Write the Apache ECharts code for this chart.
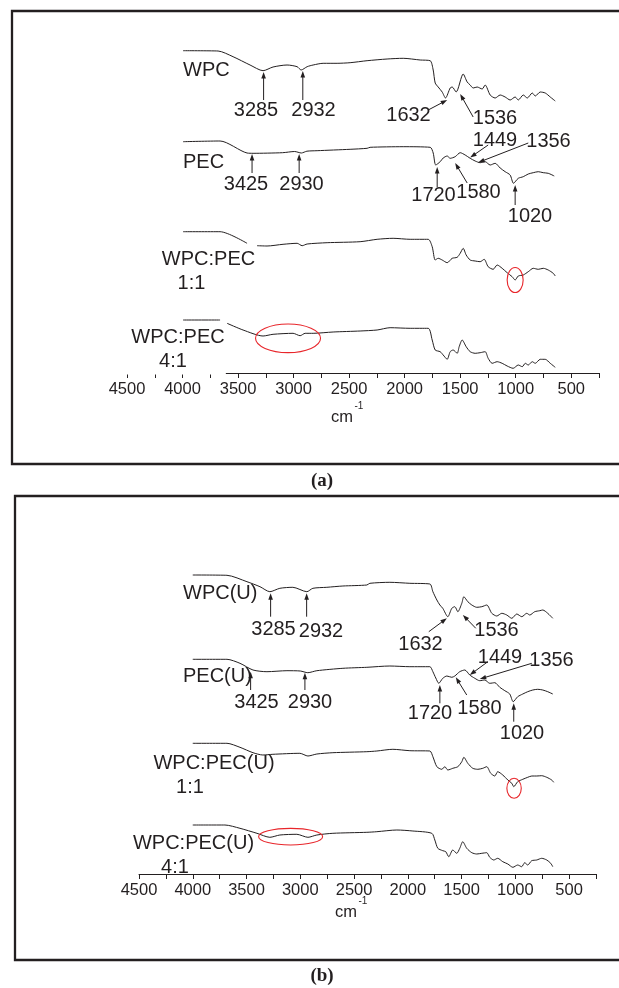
<!DOCTYPE html>
<html><head><meta charset="utf-8">
<script src="https://cdn.jsdelivr.net/npm/echarts@6/dist/echarts.min.js"></script>
<style>html,body{margin:0;padding:0;background:#fff}#c{width:619px;height:988px}</style>
</head><body><div id="c"></div>
<script>
// ---------- DATA (wavenumber cm-1, transmittance a.u. with vertical offsets) ----------
// Panel (a)
const wpcA_wn = [3995,3680,3545,3392,3275,3185,3059,2968,2932,2878,2824,2734,2608,2491,2338,2158,2013,1860,1770,1743,1725,1698,1662,1632,1590,1572,1536,1473,1437,1410,1383,1347,1302,1275,1230,1185,1140,1095,1050,1005,977,932,896,851,824,779,734,689,644];
const wpcA_T  = [322.3,322,316.3,308,302.3,306,308,306.3,303,306.3,308,309.7,309.7,310.3,312.3,314,314.7,313,312.3,303,290,286,281,275,285,286,281,299,291,288,285,286,284,288,278,275,278,276,273,276,273,278,275,280,277,281,280,276,272];
const pecA_wn = [3995,3662,3419,3365,3100,2990,2930,2880,2788,2491,2338,2311,2013,1770,1743,1720,1680,1653,1617,1590,1545,1500,1455,1410,1365,1320,1275,1230,1185,1140,1095,1050,1020,977,932,887,842,797,752,707,653];
const pecA_T  = [231.3,232,220,219.7,220.3,221.5,220,221.8,222.3,223.7,224.7,225.7,226.3,225.7,220,208,211.3,215,217,214.7,216.3,220.3,218,214.7,212,210.3,211.3,208,209.7,205,201.3,198,189.7,194.7,196.3,199,200.3,201.3,200.3,199.7,197];
const mix11A_wn = [3995,3662,3419,3374,3329,3239,3095,2968,2923,2878,2698,2401,2248,2104,1950,1788,1752,1725,1698,1662,1617,1572,1527,1500,1473,1446,1410,1365,1320,1284,1248,1203,1167,1122,1077,1032,1005,977,932,887,842,797,752,707,662,644];
const mix11A_T  = [141.3,141.3,129.7,null,127.3,127,128.7,129.7,127.3,129,130.3,131.3,133.7,134.7,133.7,133.7,126.3,113,114.7,113,110.3,114.7,115.7,119.7,124.7,118,113,112,111.3,113.7,106.3,103.7,108,104.7,100.3,96.3,93,97,98,101.3,104.7,103.7,104.7,103,99.7,97];
const mix41A_wn = [3995,3662,3630,3599,3455,3275,3185,3005,2941,2896,2824,2644,2401,2248,2131,1950,1788,1752,1725,1680,1653,1617,1590,1563,1527,1509,1482,1446,1410,1365,1320,1275,1248,1212,1167,1122,1077,1023,977,941,914,887,851,824,779,734,689,644];
const mix41A_T  = [53,53,null,49.7,43,37,38.7,39.7,37.3,39.7,39.7,41,42,43,45.3,44.7,44.7,33,23,21.3,18,13.7,21.3,23,19.7,26.3,33,26.3,21.3,19.7,20.3,21.3,14.7,9.7,11.3,9.7,7,4.7,8,6.3,9.7,8,11.3,9.7,13.7,13.7,9.7,5.7];
// Panel (b)
const wpcB_wn = [4000,3682,3496,3375,3283,3190,3069,2939,2883,2753,2604,2381,2353,2167,1981,1795,1767,1730,1702,1675,1628,1591,1563,1535,1498,1479,1442,1405,1359,1312,1266,1219,1173,1126,1080,1033,987,940,894,866,820,773,745,699,652];
const wpcB_T  = [299,298.7,292.3,287.3,282.3,285.7,286.7,282.3,285.7,286.7,288,289,290.7,291.7,290.7,290,282.3,274,269,265.7,257.3,265.7,267.3,262.3,270.7,277.3,272.3,269,266.7,267.3,269,260.7,258,260.7,259,255.7,260,257.3,260.7,259,262.3,263.3,264,260.7,255.7];
const pecB_wn = [4000,3682,3561,3440,3310,3124,3000,2930,2846,2604,2381,2167,1981,1795,1767,1740,1712,1675,1637,1591,1563,1517,1470,1424,1377,1331,1284,1238,1191,1145,1098,1052,1020,978,931,885,838,792,745,699,652];
const pecB_T  = [214.7,214.7,210.7,204,202.3,203.3,203,201.3,203.3,205.7,206.7,208,207.3,207.3,202.3,196,190.7,195.7,198,196.7,198,202.3,204,199,195.7,193.3,194,190.7,191.3,186.7,183.3,180,172.3,177.3,180,182.3,184,184.7,184,182.3,180];
const mix11B_wn = [4000,3682,3561,3440,3348,3255,3004,2929,2846,2697,2381,2288,2139,1981,1795,1767,1730,1684,1656,1628,1582,1535,1498,1479,1442,1396,1349,1303,1266,1229,1191,1164,1117,1070,1033,1015,978,931,885,847,801,755,708,662,643];
const mix11B_T  = [130.7,130.7,126.7,121.3,119,119.7,120.7,118,120,121.3,122.3,123,124.7,123.3,123,117.3,107.3,104.7,107.3,104,105.7,107.3,112.3,116.7,110.7,105.7,104.7,105.7,107.3,100.7,98,102.3,99,94,90.7,87.3,92.3,94.7,96.7,98,98,98.3,96.7,94,91.7];
const mix41B_wn = [4000,3701,3561,3403,3283,3190,3032,2929,2846,2697,2381,2288,2102,1953,1777,1749,1721,1675,1647,1619,1582,1545,1517,1489,1452,1405,1359,1312,1266,1238,1201,1164,1117,1070,1023,978,941,913,885,848,801,755,708,671,652];
const mix41B_T  = [49,49,45.7,40.7,36.7,39,39.7,36.7,39,40.7,41.7,42.3,44,43,40.7,34,25.7,23.3,22.3,17.3,24,20.7,25.7,32.3,25.7,21.3,20,20.7,21.3,16.7,14,15.7,12.3,10,6.7,9,7.3,11.3,9,13.3,14,15.7,14,10.7,7.3];

// axis range (cm-1)
const wnMin = 250, wnMax = 4500, wnStep = 250, labelStep = 500;

// ---------- annotations (data coordinates) ----------
const arrowsA = [
  [[3270,273],[3270,301]], [[2917,273],[2917,302]],
  [[3374,200],[3374,219]], [[2950,200],[2950,219]],
  [[1788,263],[1617,273]], [[1383,256],[1500,279]],
  [[1248,228],[1410,215.5]], [[887,230],[1338,210.5]],
  [[1707,186],[1707,206]], [[1437,190],[1545,210]], [[1005,168],[1005,188]]
];
const arrowsB = [
  [[3276,257.3],[3276,280.7]], [[2941,257.3],[2941,280.7]],
  [[3462,184],[3462,202.3]], [[2957,184],[2957,201.3]],
  [[1805,242.3],[1637,255.7]], [[1368,245.7],[1488,259]],
  [[1256,212.3],[1424,199]], [[847,210.7],[1331,195]],
  [[1702,170.7],[1702,189]], [[1452,179],[1554,196.7]], [[1015,152.3],[1015,170.7]]
];
const ellipsesA = [[1005,93,8,12.5],[3050,34.7,32.5,14.3]];
const ellipsesB = [[1012,85.7,7.2,10],[3090,37.3,32,8.3]];

// text labels [text, x, y, align]
const textsA = [
  ['WPC',183,70,'left'],['3285',256,110.5,'center'],['2932',313.5,110.5,'center'],
  ['PEC',183,162.5,'left'],['3425',246,184.5,'center'],['2930',301.5,184.5,'center'],
  ['1632',408.5,115,'center'],['1536',495,118.5,'center'],['1449',495,140.5,'center'],['1356',548.5,141.5,'center'],
  ['1720',433.5,195,'center'],['1580',478.5,192.5,'center'],['1020',530,216,'center'],
  ['WPC:PEC',208.5,259,'center'],['1:1',191.5,283.5,'center'],
  ['WPC:PEC',178,337.5,'center'],['4:1',173,361.5,'center']
];
const textsB = [
  ['WPC(U)',183,593.5,'left'],['3285',273.5,629.5,'center'],['2932',321,631.5,'center'],
  ['PEC(U)',183,676.7,'left'],['3425',256.5,702.5,'center'],['2930',310,702.5,'center'],
  ['1632',420.5,644.5,'center'],['1536',496.5,630,'center'],['1449',500,657.5,'center'],['1356',551.5,660.5,'center'],
  ['1720',430,713.5,'center'],['1580',479.5,708.5,'center'],['1020',522,733.5,'center'],
  ['WPC:PEC(U)',214,763.5,'center'],['1:1',190,787.5,'center'],
  ['WPC:PEC(U)',193.5,843.5,'center'],['4:1',175,867.5,'center']
];

const INK = '#231f20';
const RED = '#e8262b';
const SANS = '"Liberation Sans", Arial, Helvetica, sans-serif';

function pairs(wn, T){ return wn.map((w,i)=> T[i]==null ? [w,'-'] : [w,T[i]]); }

const chart = echarts.init(document.getElementById('c'), null, {renderer:'canvas'});

function xAx(gi){
  return {
    gridIndex: gi, type:'value', inverse:true, min:wnMin, max:wnMax, interval:wnStep,
    axisLine:{show:true, onZero:false, lineStyle:{color:INK, width:1}},
    axisTick:{show:true, length:5, inside:false, lineStyle:{color:INK, width:1}},
    axisLabel:{show:true, color:INK, fontSize:16.5, fontFamily:SANS, margin:8,
      formatter: v => (v % labelStep === 0 ? String(v) : '')},
    splitLine:{show:false}
  };
}
function yAx(gi, max){
  return {gridIndex:gi, type:'value', min:0, max:max, show:false};
}
function ser(gi, wn, T){
  return {type:'line', xAxisIndex:gi, yAxisIndex:gi, data:pairs(wn,T), showSymbol:false, symbol:'none',
    smooth:0.25, connectNulls:false, lineStyle:{color:INK, width:1}, silent:true, z:3};
}

chart.setOption({
  animation:false,
  backgroundColor:'#ffffff',
  grid:[
    {left:127, right:20, top:30, bottom:615},
    {left:139, right:23, top:530, bottom:114}
  ],
  xAxis:[xAx(0), xAx(1)],
  yAxis:[yAx(0,343), yAx(1,344)],
  series:[
    ser(0,wpcA_wn,wpcA_T), ser(0,pecA_wn,pecA_T), ser(0,mix11A_wn,mix11A_T), ser(0,mix41A_wn,mix41A_T),
    ser(1,wpcB_wn,wpcB_T), ser(1,pecB_wn,pecB_T), ser(1,mix11B_wn,mix11B_T), ser(1,mix41B_wn,mix41B_T)
  ]
});

const els = [];
// frames
els.push({type:'rect', shape:{x:12,y:11,width:700,height:453}, style:{fill:'none',stroke:INK,lineWidth:2.3}, z:1});
els.push({type:'rect', shape:{x:15,y:496,width:700,height:464}, style:{fill:'none',stroke:INK,lineWidth:2.3}, z:1});
// panel (a) axis line is hidden behind the 4:1 label box on the left
(function(){
  const p0 = chart.convertToPixel({gridIndex:0},[wnMax,0]);
  const p1 = chart.convertToPixel({gridIndex:0},[3610,0]);
  els.push({type:'rect', shape:{x:p0[0]-3, y:p0[1]-4, width:p1[0]-p0[0]+3, height:5.5}, style:{fill:'#fff'}, z:20});
})();

function arrow(g, from, to){
  const a = chart.convertToPixel({gridIndex:g}, from);
  const b = chart.convertToPixel({gridIndex:g}, to);
  const dx=b[0]-a[0], dy=b[1]-a[1], L=Math.hypot(dx,dy), ux=dx/L, uy=dy/L;
  const hl=6.5, hw=2.3;
  const bx=b[0]-ux*hl, by=b[1]-uy*hl;
  els.push({type:'line', shape:{x1:a[0],y1:a[1],x2:bx+ux*1,y2:by+uy*1}, style:{stroke:INK,lineWidth:1}, z:30});
  els.push({type:'polygon', shape:{points:[[b[0],b[1]],[bx-uy*hw,by+ux*hw],[bx+uy*hw,by-ux*hw]]}, style:{fill:INK}, z:30});
}
arrowsA.forEach(a=>arrow(0,a[0],a[1]));
arrowsB.forEach(a=>arrow(1,a[0],a[1]));

function ell(g, e){
  const c = chart.convertToPixel({gridIndex:g},[e[0],e[1]]);
  els.push({type:'ellipse', shape:{cx:c[0],cy:c[1],rx:e[2],ry:e[3]}, style:{fill:'none',stroke:RED,lineWidth:1.1}, z:30});
}
ellipsesA.forEach(e=>ell(0,e));
ellipsesB.forEach(e=>ell(1,e));

function txt(t){
  els.push({type:'text', x:t[1], y:t[2], z:40,
    style:{text:t[0], fill:INK, font:'20px '+SANS, align:t[3], verticalAlign:'middle'}});
}
textsA.forEach(txt); textsB.forEach(txt);

// axis titles
[[342,417,406],[346,912,901]].forEach(p=>{
  els.push({type:'text', x:p[0], y:p[1], z:40, style:{text:'cm', fill:INK, font:'16.5px '+SANS, align:'center', verticalAlign:'middle'}});
  els.push({type:'text', x:p[0]+12.5, y:p[2], z:40, style:{text:'-1', fill:INK, font:'10px '+SANS, align:'left', verticalAlign:'middle'}});
});
// panel captions
els.push({type:'text', x:322, y:481, z:40, style:{text:'(a)', fill:INK, font:'bold 19px "Liberation Serif", "Times New Roman", serif', align:'center', verticalAlign:'middle'}});
els.push({type:'text', x:322, y:976, z:40, style:{text:'(b)', fill:INK, font:'bold 19px "Liberation Serif", "Times New Roman", serif', align:'center', verticalAlign:'middle'}});

chart.setOption({graphic:{elements:els}});
</script>
</body></html>
